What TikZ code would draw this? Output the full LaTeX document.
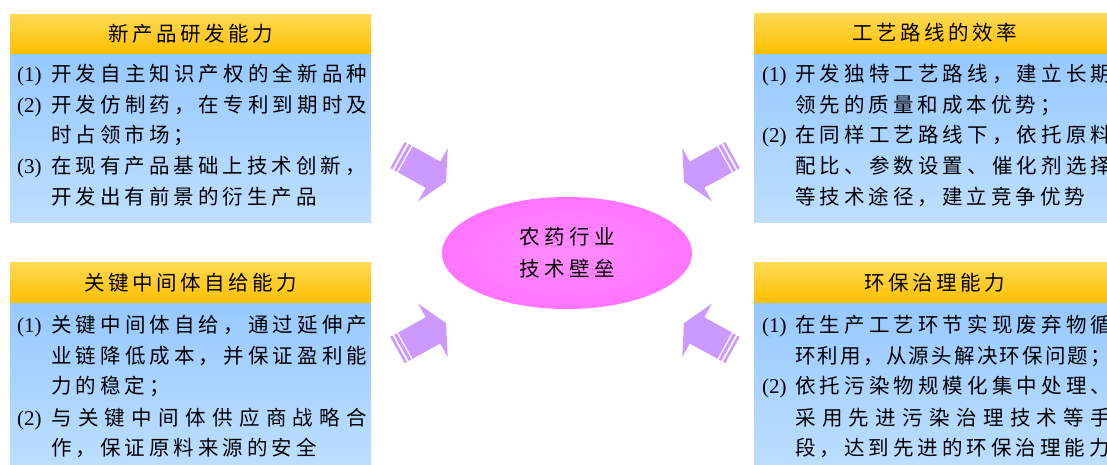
\documentclass[tikz,border=0pt]{standalone}
\usepackage{fontspec}
\newfontfamily\cjk{Noto Sans CJK SC}
\newfontfamily\numfont{Liberation Serif}
\usetikzlibrary{shapes.geometric}
\newdimen\cjkgap \cjkgap=4pt
\XeTeXinterchartokenstate=1
\newXeTeXintercharclass\cjkcls
\count255="4E00
\loop\ifnum\count255<"9FA6 \XeTeXcharclass\count255=\cjkcls \advance\count255 by 1 \repeat
\XeTeXcharclass"FF0C=\cjkcls
\XeTeXcharclass"FF1B=\cjkcls
\XeTeXcharclass"3001=\cjkcls
\XeTeXinterchartoks\cjkcls\cjkcls={\hskip\cjkgap plus 4pt minus 2.5pt\relax}
\newcommand\fullline[1]{\hbox to 316pt{#1}}
\definecolor{goldtop}{HTML}{FFDA57}
\definecolor{goldbot}{HTML}{FFC000}
\definecolor{bluetop}{HTML}{97C9FF}
\definecolor{bluebot}{HTML}{BEDFFF}
\definecolor{arrowc}{HTML}{CC99FF}
\definecolor{pinkin}{HTML}{FF8CFF}
\definecolor{pinkout}{HTML}{FF5CFF}
\pgfdeclareradialshading{coreshade}{\pgfpoint{0bp}{0bp}}{color(0bp)=(pinkin); color(50bp)=(pinkout)}
\newcommand\purplearrow{%
  \fill[arrowc] (0,-15) rectangle (2.5,15);
  \fill[arrowc] (4.5,-15) rectangle (7.5,15);
  \fill[arrowc] (9,-15) -- (40.5,-15) -- (40.5,-30.5) -- (55.5,0) -- (40.5,30.5) -- (40.5,15) -- (9,15) -- cycle;
}
\begin{document}
\begin{tikzpicture}[x=1pt,y=-1pt,
  ttl/.style={anchor=base, inner sep=0pt, font={\cjk\fontsize{20.5}{24}\selectfont\cjkgap=3.5pt}},
  txt/.style={anchor=base west, inner sep=0pt, font={\cjk\fontsize{20.5}{24}\selectfont\cjkgap=4pt}},
  num/.style={anchor=base west, inner sep=0pt, font={\numfont\fontsize{21}{24}\selectfont}},
  headband/.style={top color=goldtop, bottom color=goldbot},
  bodyband/.style={top color=bluetop, bottom color=bluebot},
  core/.style={ellipse, minimum width=250pt, minimum height=112pt, inner sep=0pt,
    shading=coreshade, align=center, font={\cjk\fontsize{20.5}{32}\selectfont\cjkgap=4.5pt}}]
\useasboundingbox (0,0) rectangle (1107,464);
\clip (0,0) rectangle (1107,464);
\fill[white] (0,0) rectangle (1107,464);

% boxes
\fill[headband] (10,14) rectangle (371,53);
\fill[bodyband] (10,54.5) rectangle (371,222);
\fill[headband] (754,13) rectangle (1115,53);
\fill[bodyband] (754,54.5) rectangle (1115,222);
\fill[headband] (10,262) rectangle (371,302);
\fill[bodyband] (10,303.5) rectangle (371,471);
\fill[headband] (754,262) rectangle (1115,302);
\fill[bodyband] (754,303.5) rectangle (1115,471);

% titles
\node[ttl] (tlh) at (190.5,41) {新产品研发能力};
\node[ttl] (trh) at (934.5,40) {工艺路线的效率};
\node[ttl] (blh) at (190.5,290) {关键中间体自给能力};
\node[ttl] (brh) at (934.5,290) {环保治理能力};

% top-left text
\node[num] (tln1) at (17,81) {(1)};
\node[txt] (tl1) at (51,81) {\fullline{开发自主知识产权的全新品种}};
\node[num] (tln2) at (17,112) {(2)};
\node[txt] (tl2) at (51,112) {\fullline{开发仿制药，在专利到期时及}};
\node[txt] (tl3) at (51,142.5) {时占领市场；};
\node[num] (tln3) at (17,173.5) {(3)};
\node[txt] (tl4) at (51,173.5) {在现有产品基础上技术创新，};
\node[txt] (tl5) at (51,204) {开发出有前景的衍生产品};

% top-right text
\node[num] (trn1) at (762,81) {(1)};
\node[txt] (tr1) at (795,81) {\fullline{开发独特工艺路线，建立长期}};
\node[txt] (tr2) at (795,112) {领先的质量和成本优势；};
\node[num] (trn2) at (762,142.5) {(2)};
\node[txt] (tr3) at (795,142.5) {\fullline{在同样工艺路线下，依托原料}};
\node[txt] (tr4) at (795,173.5) {\fullline{配比、参数设置、催化剂选择}};
\node[txt] (tr5) at (795,204) {等技术途径，建立竞争优势};

% bottom-left text
\node[num] (bln1) at (17,332) {(1)};
\node[txt] (bl1) at (51,332) {\fullline{关键中间体自给，通过延伸产}};
\node[txt] (bl2) at (51,363) {\fullline{业链降低成本，并保证盈利能}};
\node[txt] (bl3) at (51,393) {力的稳定；};
\node[num] (bln2) at (17,425) {(2)};
\node[txt] (bl4) at (51,425) {\fullline{与关键中间体供应商战略合}};
\node[txt] (bl5) at (51,455) {作，保证原料来源的安全};

% bottom-right text
\node[num] (brn1) at (762,332) {(1)};
\node[txt] (br1) at (795,332) {\fullline{在生产工艺环节实现废弃物循}};
\node[txt] (br2) at (795,363) {\fullline{环利用，从源头解决环保问题；}};
\node[num] (brn2) at (762,393) {(2)};
\node[txt] (br3) at (795,393) {\fullline{依托污染物规模化集中处理、}};
\node[txt] (br4) at (795,425) {\fullline{采用先进污染治理技术等手}};
\node[txt] (br5) at (795,455) {段，达到先进的环保治理能力};

% centre
\node[core] (core) at (567,253) {农药行业\\技术壁垒};

% arrows
\begin{scope}[shift={(397.5,155)}, rotate=-29]
  \purplearrow
\end{scope}
\begin{scope}[shift={(1130,0)}, xscale=-1]
  \begin{scope}[shift={(397.5,155)}, rotate=-29]
    \purplearrow
  \end{scope}
\end{scope}
\begin{scope}[shift={(0,505)}, yscale=-1]
  \begin{scope}[shift={(397.5,155)}, rotate=-29]
    \purplearrow
  \end{scope}
\end{scope}
\begin{scope}[shift={(1130,505)}, xscale=-1, yscale=-1]
  \begin{scope}[shift={(397.5,155)}, rotate=-29]
    \purplearrow
  \end{scope}
\end{scope}
\end{tikzpicture}
\end{document}
